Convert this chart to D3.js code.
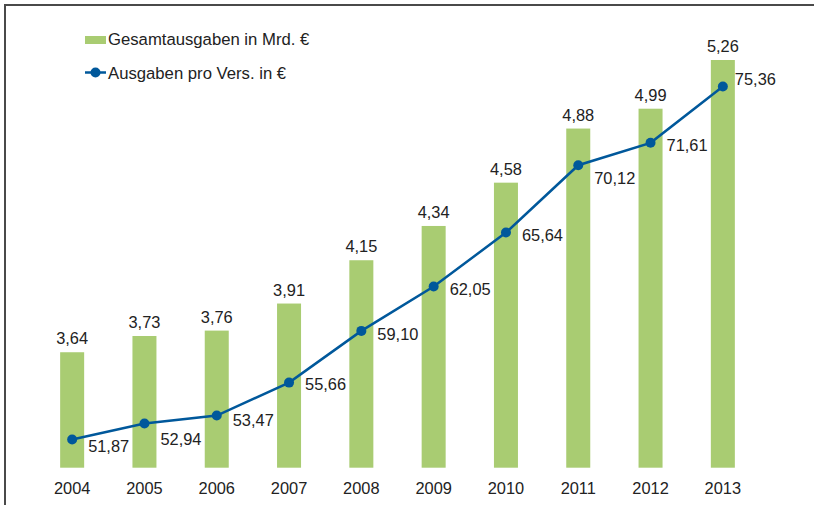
<!DOCTYPE html>
<html>
<head>
<meta charset="utf-8">
<script src="https://cdn.jsdelivr.net/npm/d3@7"></script>
<style>
   body { margin: 0; background: #fff; }
   text { font-family: "Liberation Sans", Arial, sans-serif; fill: #222; }
</style>
</head>
<body>
<div class="chart-container"></div>
<script>
// data
const years = ['2004', '2005', '2006', '2007', '2008', '2009', '2010', '2011', '2012', '2013'];
const total_spend = [3.64, 3.73, 3.76, 3.91, 4.15, 4.34, 4.58, 4.88, 4.99, 5.26];
const spend_per_insured = [51.87, 52.94, 53.47, 55.66, 59.10, 62.05, 65.64, 70.12, 71.61, 75.36];
const series_names = ['Gesamtausgaben in Mrd. €', 'Ausgaben pro Vers. in €'];

// label nudges (vertical px) for the line labels, like the hand-placed ones in the original
const line_label_dy = [12, 21, 10, 7, 9, 8, 8, 19, 8, -1];

const total_width = 814;
const total_height = 505;
const plot_top = 16.7;
const plot_bottom = 467.7;

const green = '#a9cc72';
const blue = '#00589b';
const label_size = '16.4px';

const fmt = d3.format('.2f');
const de_num = v => fmt(v).replace('.', ',');

const svg = d3.select('.chart-container')
   .append('svg')
   .attr('width', total_width)
   .attr('height', total_height);

// frame (only top and left edge visible)
svg.append('path')
   .attr('d', `M5,${total_height} L5,5 L${total_width},5`)
   .attr('fill', 'none')
   .attr('stroke', '#4a4a4a')
   .attr('stroke-width', 2);

const x_scale = d3.scaleBand()
   .domain(years)
   .range([36, 759])
   .paddingInner(0.668)
   .paddingOuter(0.334);

const y_bar = d3.scaleLinear()
   .domain([3, 5.5])
   .range([plot_bottom, plot_top]);

const y_line = d3.scaleLinear()
   .domain([50, 80])
   .range([plot_bottom, plot_top]);

const cx = d => x_scale(d) + x_scale.bandwidth() / 2;

// bars
svg.append('g')
   .attr('class', 'bars')
   .selectAll('rect')
   .data(years)
   .join('rect')
   .attr('x', d => x_scale(d))
   .attr('y', (d, i) => y_bar(total_spend[i]))
   .attr('width', x_scale.bandwidth())
   .attr('height', (d, i) => plot_bottom - y_bar(total_spend[i]))
   .style('fill', green);

svg.append('g')
   .attr('class', 'bar-labels')
   .selectAll('text')
   .data(years)
   .join('text')
   .attr('x', d => cx(d))
   .attr('y', (d, i) => y_bar(total_spend[i]) - 8)
   .attr('text-anchor', 'middle')
   .style('font-size', label_size)
   .text((d, i) => de_num(total_spend[i]));

// x axis labels, no line/ticks
const x_axis = d3.axisBottom(x_scale).tickSize(0).tickPadding(0);
const xg = svg.append('g')
   .attr('class', 'x axis')
   .attr('transform', `translate(0, 494)`)
   .call(x_axis);
xg.select('.domain').remove();
xg.selectAll('text')
   .attr('dy', 0)
   .attr('y', 0)
   .style('font-size', label_size)
   .style('font-family', '"Liberation Sans", Arial, sans-serif')
   .attr('fill', '#222');

// line
const line = d3.line()
   .x(d => cx(d))
   .y((d, i) => y_line(spend_per_insured[i]));

svg.append('path')
   .datum(years)
   .attr('d', line)
   .attr('fill', 'none')
   .attr('stroke', blue)
   .attr('stroke-width', 2.5);

svg.append('g')
   .selectAll('circle')
   .data(years)
   .join('circle')
   .attr('cx', d => cx(d))
   .attr('cy', (d, i) => y_line(spend_per_insured[i]))
   .attr('r', 5)
   .style('fill', blue);

svg.append('g')
   .attr('class', 'line-labels')
   .selectAll('text')
   .data(years)
   .join('text')
   .attr('x', (d, i) => cx(d) + (i === years.length - 1 ? 12 : 16))
   .attr('y', (d, i) => y_line(spend_per_insured[i]) + line_label_dy[i])
   .style('font-size', label_size)
   .text((d, i) => de_num(spend_per_insured[i]));

// legend
const legend = svg.append('g').attr('class', 'legend');
legend.append('rect')
   .attr('x', 85).attr('y', 36)
   .attr('width', 21).attr('height', 8)
   .style('fill', green);
legend.append('text')
   .attr('x', 108).attr('y', 45)
   .style('font-size', '16.7px')
   .text(series_names[0]);
legend.append('line')
   .attr('x1', 85).attr('x2', 106)
   .attr('y1', 72.5).attr('y2', 72.5)
   .attr('stroke', blue)
   .attr('stroke-width', 2.5);
legend.append('circle')
   .attr('cx', 95.5).attr('cy', 72.5).attr('r', 5)
   .style('fill', blue);
legend.append('text')
   .attr('x', 108).attr('y', 79)
   .style('font-size', '16.7px')
   .text(series_names[1]);
</script>
</body>
</html>
